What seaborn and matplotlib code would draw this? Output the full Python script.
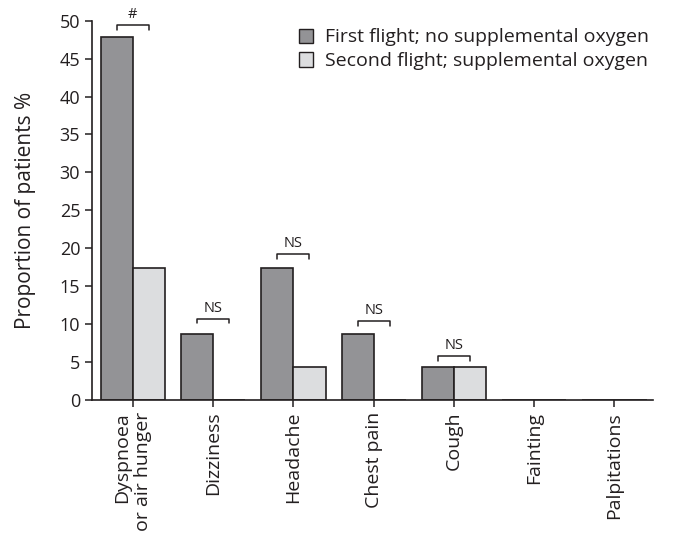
import pandas as pd
import matplotlib
matplotlib.use("Agg")
import matplotlib.pyplot as plt
import seaborn as sns
from matplotlib.patches import Patch

# data
symptoms = ["Dyspnoea\nor air hunger", "Dizziness", "Headache", "Chest pain",
            "Cough", "Fainting", "Palpitations"]
first_flight = [47.8, 8.7, 17.4, 8.7, 4.3, 0, 0]
second_flight = [17.4, 0, 4.3, 0, 4.3, 0, 0]
series_names = ["First flight; no supplemental oxygen",
                "Second flight; supplemental oxygen"]

# significance brackets (label, height of bracket)
sig_labels = ["#", "NS", "NS", "NS", "NS"]
sig_heights = [49.4, 10.7, 19.2, 10.4, 5.8]

dark = "#939396"
light = "#dcdddf"
ink = "#231f20"

df = pd.DataFrame({
    "Symptom": symptoms * 2,
    "Value": first_flight + second_flight,
    "Flight": [series_names[0]] * len(symptoms) + [series_names[1]] * len(symptoms),
})

sns.set_style("ticks")
plt.rcParams["font.family"] = ["Open Sans", "DejaVu Sans"]

fig = plt.figure(figsize=(6.76, 5.38), dpi=100)
ax = fig.add_axes([0.136, 0.2565, 0.83, 0.705])

sns.barplot(data=df, x="Symptom", y="Value", hue="Flight",
            palette=[dark, light], edgecolor=ink, linewidth=1.2,
            width=0.8, gap=0, ax=ax, legend=False)

ax.set_xlim(-0.51, 6.48)
ax.set_ylim(0, 50)
ax.set_yticks(range(0, 51, 5))
ax.set_xlabel("")
ax.set_ylabel("Proportion of patients %", fontsize=15, color=ink)
ax.yaxis.set_label_coords(-0.1, 0.5)
ax.tick_params(axis="both", colors=ink, length=5, width=1.1)
ax.tick_params(axis="y", labelsize=13)
ax.tick_params(axis="x", labelsize=14)
plt.setp(ax.get_xticklabels(), rotation=90, multialignment="right")
sns.despine(ax=ax)
for s in ["left", "bottom"]:
    ax.spines[s].set_linewidth(1.2)
    ax.spines[s].set_color(ink)

# brackets
for i, (lab, h) in enumerate(zip(sig_labels, sig_heights)):
    x0, x1 = i - 0.2, i + 0.2
    ax.plot([x0, x0, x1, x1], [h - 0.6, h, h, h - 0.6], color=ink,
            lw=1.1, clip_on=False)
    ax.text(i, h + 0.4, lab, ha="center", va="bottom", fontsize=10.5,
            color=ink, clip_on=False)

handles = [Patch(facecolor=dark, edgecolor=ink, linewidth=1),
           Patch(facecolor=light, edgecolor=ink, linewidth=1)]
ax.legend(handles, series_names, loc="upper left", bbox_to_anchor=(0.355, 1.0),
          frameon=False, fontsize=14, handlelength=0.75, handleheight=0.75,
          handletextpad=0.6, labelspacing=0.3, borderaxespad=0,
          labelcolor=ink)

fig.savefig("out.png", dpi=100)
